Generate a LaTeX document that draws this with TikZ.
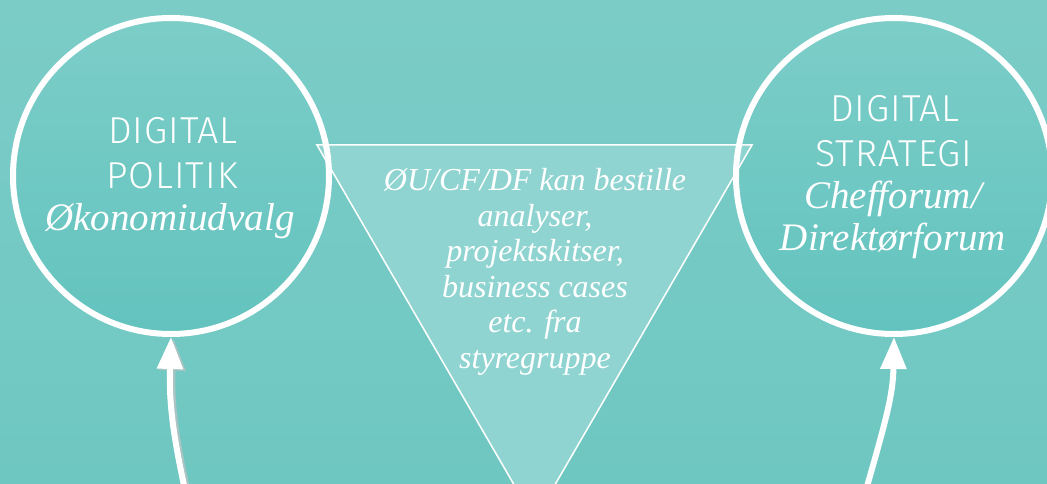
\documentclass[tikz,border=0pt]{standalone}
\usepackage{fontspec}
\setmainfont{Liberation Serif}
\newfontfamily\headfont{Fira Sans Light}[LetterSpace=2.5]
\usetikzlibrary{arrows.meta}
\definecolor{bgtop}{HTML}{7BCCC7}
\definecolor{bgbot}{HTML}{6FC7C2}
\definecolor{cirtop}{HTML}{7CCDC8}
\definecolor{cirbot}{HTML}{63C3BE}
\definecolor{trifill}{HTML}{8FD4D0}
\definecolor{shadowc}{HTML}{A9C4C2}
\begin{document}
\begin{tikzpicture}[x=1pt,y=-1pt,
  circ/.style={circle, minimum size=316pt, inner sep=0pt, outer sep=3pt, top color=cirtop, bottom color=cirbot, draw=none},
  ring/.style={draw=white, line width=6pt},
  head/.style={text=white, font=\headfont\fontsize{37.5}{40}\selectfont, anchor=base, inner sep=0pt},
  ital/.style={text=white, font=\itshape\fontsize{39}{40}\selectfont, anchor=base, inner sep=0pt},
  tritext/.style={text=white, font=\itshape\fontsize{32}{35.5}\selectfont, align=center, inner sep=0pt},
  tri/.style={draw=white, line width=1.5pt, fill=trifill},
  conn/.style={draw=white, line width=6pt, -{Triangle[length=32pt,width=25pt]}},
  connshadow/.style={draw=shadowc, line width=6pt, -{Triangle[length=32pt,width=25pt]}}
]
\useasboundingbox (0,0) rectangle (1047,484);
\shade[top color=bgtop, bottom color=bgbot] (0,0) rectangle (1047,484);
% circles (fill)
\node[circ] (L) at (171,176) {};
\node[circ] (R) at (894,176) {};
% triangle
\draw[tri] (317,145) -- (752,145) -- (534.5,520) -- cycle;
% rings
\draw[ring] (L.center) circle[radius=158];
\draw[ring] (R.center) circle[radius=158];
% texts
\node[head] (l1) at (173,144) {DIGITAL};
\node[head] (l2) at (172,189) {POLITIK};
\node[ital] (l3) at (170,230) {Økonomiudvalg};
\node[head] (r1) at (895,122) {DIGITAL};
\node[head] (r2) at (894,167) {STRATEGI};
\node[ital] (r3) at (893,208) {Chefforum/};
\node[ital] (r4) at (893,250) {Direktørforum};
\node[tritext] (t) at (535,272) {ØU/CF/DF kan bestille\\analyser,\\projektskitser,\\business cases\\etc. fra\\styregruppe};
% connectors
\coordinate (la) at (185,490);
\coordinate (ra) at (866,490);
\draw[connshadow, transform canvas={xshift=2.5pt, yshift=-1.5pt}] (la) .. controls (172,430) and (169,400) .. (L.south);
\draw[conn] (la) .. controls (172,430) and (169,400) .. (L.south);
\draw[conn] (ra) .. controls (886,420) and (893,395) .. (R.south);
\end{tikzpicture}
\end{document}
